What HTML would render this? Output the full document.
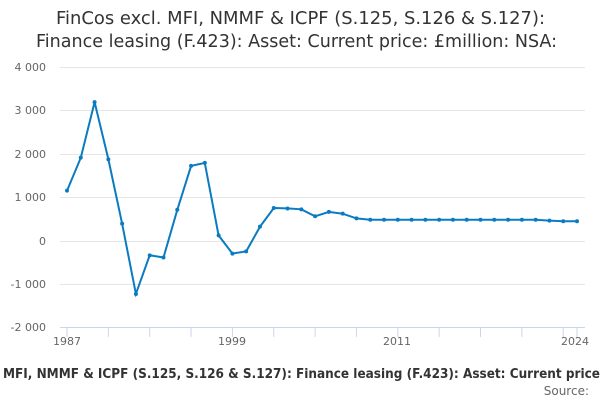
<!DOCTYPE html>
<html><head><style>body{margin:0;background:#fff}svg{display:block}</style></head><body>
<svg width="600" height="400" xmlns="http://www.w3.org/2000/svg" font-family="'DejaVu Sans', 'Liberation Sans', sans-serif">
<text x="56" y="24" font-size="17.5" fill="#333" textLength="489" lengthAdjust="spacingAndGlyphs">FinCos excl. MFI, NMMF &amp; ICPF (S.125, S.126 &amp; S.127):</text>
<text x="36" y="47" font-size="17.5" fill="#333" textLength="521" lengthAdjust="spacingAndGlyphs">Finance leasing (F.423): Asset: Current price: £million: NSA:</text>
<g stroke="#e6e6e6" stroke-width="1">
<line x1="60" x2="585" y1="67.5" y2="67.5"/><line x1="60" x2="585" y1="110.5" y2="110.5"/><line x1="60" x2="585" y1="154.5" y2="154.5"/><line x1="60" x2="585" y1="197.5" y2="197.5"/><line x1="60" x2="585" y1="241.5" y2="241.5"/><line x1="60" x2="585" y1="284.5" y2="284.5"/>
</g>
<line x1="60" x2="585" y1="327.5" y2="327.5" stroke="#ccd6eb"/>
<g stroke="#ccd6eb" id="t"></g>
<g font-size="11" fill="#666" text-anchor="end">
<text x="46" y="71">4 000</text><text x="46" y="114">3 000</text><text x="46" y="158">2 000</text><text x="46" y="201">1 000</text><text x="46" y="245">0</text><text x="46" y="288">-1 000</text><text x="46" y="331">-2 000</text>
</g>
<g font-size="11" fill="#666" text-anchor="middle">
<text x="67" y="345">1987</text><text x="232" y="345">1999</text><text x="397" y="345">2011</text><text x="575" y="345">2024</text>
</g>
<text x="3" y="378" font-size="13" font-weight="600" fill="#333" textLength="597" lengthAdjust="spacingAndGlyphs">MFI, NMMF &amp; ICPF (S.125, S.126 &amp; S.127): Finance leasing (F.423): Asset: Current price</text>
<text x="589" y="395" text-anchor="end" font-size="12" fill="#666">Source:</text>
<g id="p"></g>
</svg>
<script>
var d=[1160,1920,3200,1880,400,-1220,-330,-380,720,1730,1800,130,-290,-240,330,760,750,730,570,670,630,520,490,490,490,490,490,490,490,490,490,490,490,490,490,470,455,455];
var X=i=>67+i*510/37,Y=v=>241-v*0.0434,ns="http://www.w3.org/2000/svg";
var t=document.getElementById('t');
for(var k=0;k<=13;k++){var yr=Math.min(k*3,37);var l=document.createElementNS(ns,'line');var x=X(yr);l.setAttribute('x1',x);l.setAttribute('x2',x);l.setAttribute('y1',327);l.setAttribute('y2',337);t.appendChild(l);}
var p=document.getElementById('p'),s='';
d.forEach((v,i)=>{s+=(i?'L':'M')+X(i).toFixed(1)+' '+Y(v).toFixed(1);var c=document.createElementNS(ns,'circle');c.setAttribute('cx',X(i));c.setAttribute('cy',Y(v));c.setAttribute('r',2);c.setAttribute('fill','#0b7bc1');p.appendChild(c);});
var pa=document.createElementNS(ns,'path');pa.setAttribute('d',s);pa.setAttribute('fill','none');pa.setAttribute('stroke','#0b7bc1');pa.setAttribute('stroke-width','2');p.insertBefore(pa,p.firstChild);
</script>
</body></html>
